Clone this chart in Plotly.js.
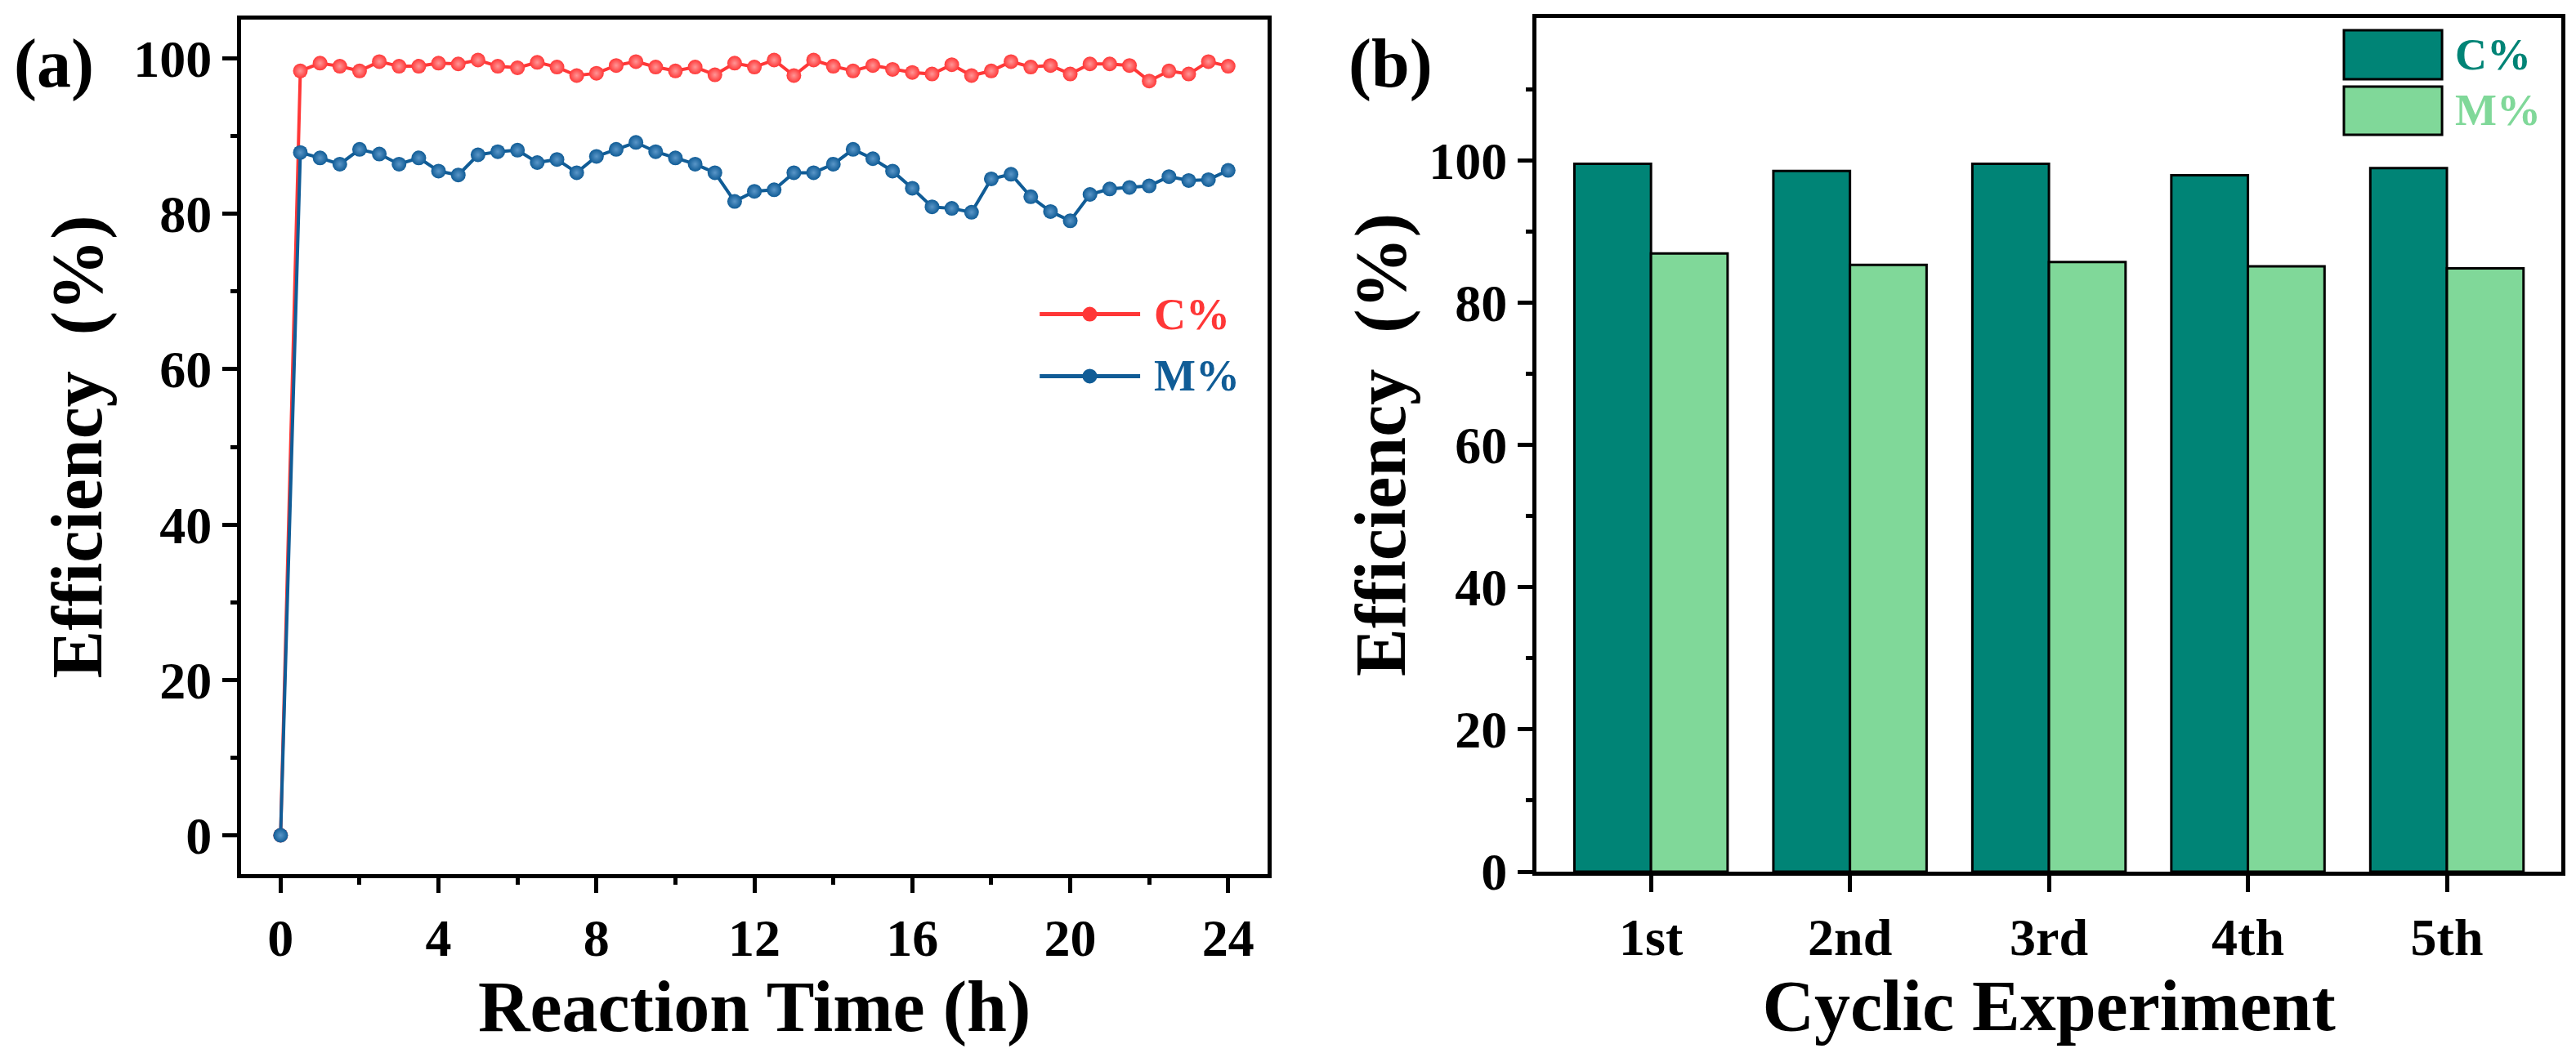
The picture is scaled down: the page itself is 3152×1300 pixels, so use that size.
<!DOCTYPE html>
<html>
<head>
<meta charset="utf-8">
<script src="https://cdn.plot.ly/plotly-3.0.1.min.js"></script>
<style>
  html, body { margin: 0; padding: 0; background: #fff; }
  #myDiv { width: 3152px; height: 1300px; }
</style>
</head>
<body>
<div id="myDiv"></div>
<script>
// (a) reaction time in hours, every half hour
let hours = [
  0, 0.5, 1, 1.5, 2, 2.5, 3, 3.5, 4, 4.5, 5, 5.5, 6, 6.5, 7, 7.5, 8, 8.5, 9, 9.5,
  10, 10.5, 11, 11.5, 12, 12.5, 13, 13.5, 14, 14.5, 15, 15.5, 16, 16.5, 17, 17.5,
  18, 18.5, 19, 19.5, 20, 20.5, 21, 21.5, 22, 22.5, 23, 23.5, 24,
];

// C% conversion
let convC = [
  0, 98.4, 99.4, 99.0, 98.4, 99.6, 99.0, 99.0, 99.4, 99.3, 99.8, 99.0, 98.8, 99.5,
  98.9, 97.8, 98.1, 99.1, 99.6, 98.9, 98.4, 98.9, 97.9, 99.4, 98.9, 99.8, 97.8,
  99.8, 99.0, 98.4, 99.1, 98.6, 98.2, 98.0, 99.2, 97.8, 98.4, 99.6, 98.9, 99.1,
  98.0, 99.3, 99.3, 99.1, 97.1, 98.4, 98.0, 99.6, 99.0,
];

// M% from the blue curve
let convM = [
  0, 87.9, 87.2, 86.4, 88.3, 87.7, 86.4, 87.2, 85.5, 85.0, 87.6, 88.0, 88.2, 86.6,
  87.0, 85.3, 87.4, 88.3, 89.2, 88.0, 87.2, 86.4, 85.3, 81.6, 82.9, 83.1, 85.3,
  85.3, 86.4, 88.3, 87.1, 85.5, 83.3, 80.9, 80.7, 80.2, 84.5, 85.1, 82.2, 80.3,
  79.1, 82.5, 83.2, 83.4, 83.6, 84.8, 84.3, 84.4, 85.6,
];

// (b) cyclic runs
let cycles = ["1st", "2nd", "3rd", "4th", "5th"];
let cycleC = [99.5, 98.5, 99.5, 97.9, 98.9];
let cycleM = [86.9, 85.3, 85.7, 85.1, 84.8];

let serif = "Liberation Serif, Times New Roman, serif";
let red = "rgb(255, 55, 55)";
let blue = "rgb(16, 92, 150)";
let teal = "rgb(0, 132, 118)";
let mint = "rgb(128, 216, 153)";

function boldFont(size, color) {
  return { family: serif, size: size, color: color || "#000", weight: "bold" };
}

// shared look of the boxed axes
function frameAxis(extra) {
  let base = {
    showline: true,
    mirror: true,
    linecolor: "#000",
    linewidth: 5,
    showgrid: false,
    zeroline: false,
    ticks: "outside",
    ticklen: 18,
    tickwidth: 5,
    tickcolor: "#000",
    tickfont: boldFont(64),
  };
  return Object.assign(base, extra);
}

let data = [
  {
    x: hours,
    y: convC,
    type: "scatter",
    mode: "lines+markers",
    name: "C%",
    line: { color: red, width: 4 },
    marker: {
      color: red,
      size: 18,
      gradient: { type: "radial", color: "rgb(255, 150, 150)" },
    },
    xaxis: "x",
    yaxis: "y",
    showlegend: false,
  },
  {
    x: hours,
    y: convM,
    type: "scatter",
    mode: "lines+markers",
    name: "M%",
    line: { color: blue, width: 4 },
    marker: {
      color: blue,
      size: 18,
      gradient: { type: "radial", color: "rgb(90, 150, 200)" },
    },
    xaxis: "x",
    yaxis: "y",
    showlegend: false,
  },
  {
    x: cycles,
    y: cycleC,
    type: "bar",
    name: "C%",
    marker: { color: teal, line: { color: "#000", width: 3 } },
    xaxis: "x2",
    yaxis: "y2",
    showlegend: false,
  },
  {
    x: cycles,
    y: cycleM,
    type: "bar",
    name: "M%",
    marker: { color: mint, line: { color: "#000", width: 3 } },
    xaxis: "x2",
    yaxis: "y2",
    showlegend: false,
  },
];

// hand made legends, placed in paper units
let legendShapes = [
  { type: "line", xref: "paper", yref: "paper", x0: 0.4036, x1: 0.4426, y0: 0.7042, y1: 0.7042, line: { color: red, width: 5 } },
  { type: "circle", xref: "paper", yref: "paper", x0: 0.4202, x1: 0.4259, y0: 0.6973, y1: 0.7111, fillcolor: red, line: { width: 0 } },
  { type: "line", xref: "paper", yref: "paper", x0: 0.4036, x1: 0.4426, y0: 0.6458, y1: 0.6458, line: { color: blue, width: 5 } },
  { type: "circle", xref: "paper", yref: "paper", x0: 0.4202, x1: 0.4259, y0: 0.6389, y1: 0.6527, fillcolor: blue, line: { width: 0 } },
  { type: "rect", xref: "paper", yref: "paper", x0: 0.9099, x1: 0.948, y0: 0.9254, y1: 0.9715, fillcolor: teal, line: { color: "#000", width: 3 } },
  { type: "rect", xref: "paper", yref: "paper", x0: 0.9099, x1: 0.948, y0: 0.8731, y1: 0.9185, fillcolor: mint, line: { color: "#000", width: 3 } },
];

function note(text, x, y, font, xanchor) {
  return {
    text: text, x: x, y: y, xref: "paper", yref: "paper",
    xanchor: xanchor || "center", yanchor: "middle",
    showarrow: false, font: font,
  };
}

let labels = [
  note("(a)", 0.021, 0.94, boldFont(84)),
  note("(b)", 0.5397, 0.94, boldFont(84)),
  note("C%", 0.4473, 0.7042, boldFont(54, red), "left"),
  note("M%", 0.4473, 0.6458, boldFont(54, blue), "left"),
  note("C%", 0.9524, 0.9485, boldFont(54, teal), "left"),
  note("M%", 0.9524, 0.8958, boldFont(54, mint), "left"),
];

let layout = {
  width: 3152,
  height: 1300,
  margin: { l: 0, r: 0, t: 0, b: 0 },
  paper_bgcolor: "#fff",
  plot_bgcolor: "#fff",
  font: boldFont(64),
  barmode: "group",
  bargap: 0.23,
  bargroupgap: 0,
  xaxis: frameAxis({
    domain: [0.0936, 0.4921],
    anchor: "y",
    range: [-1, 25],
    tick0: 0,
    dtick: 4,
    minor: { ticks: "outside", ticklen: 8, tickwidth: 5, tickcolor: "#000", dtick: 2 },
    title: { text: "Reaction Time (h)", font: boldFont(88), standoff: 14 },
  }),
  yaxis: frameAxis({
    domain: [0.1769, 0.9815],
    anchor: "x",
    range: [-5, 105],
    tick0: 0,
    dtick: 20,
    minor: { ticks: "outside", ticklen: 8, tickwidth: 5, tickcolor: "#000", dtick: 10 },
    title: { text: "Efficiency\u00a0\u00a0(%)", font: boldFont(88), standoff: 11 },
  }),
  xaxis2: frameAxis({
    domain: [0.5965, 0.9943],
    anchor: "y2",
    type: "category",
    range: [-0.575, 4.575],
    ticklen: 20,
    title: { text: "Cyclic Experiment", font: boldFont(88), standoff: 14 },
  }),
  yaxis2: frameAxis({
    domain: [0.1792, 0.9831],
    anchor: "x2",
    range: [0, 120],
    tickvals: [0, 20, 40, 60, 80, 100],
    minor: { ticks: "outside", ticklen: 8, tickwidth: 5, tickcolor: "#000", tickvals: [10, 30, 50, 70, 90, 110] },
    title: { text: "Efficiency\u00a0\u00a0(%)", font: boldFont(88), standoff: 1 },
  }),
  shapes: legendShapes,
  annotations: labels,
};

Plotly.newPlot("myDiv", data, layout, { staticPlot: true });
</script>
</body>
</html>
